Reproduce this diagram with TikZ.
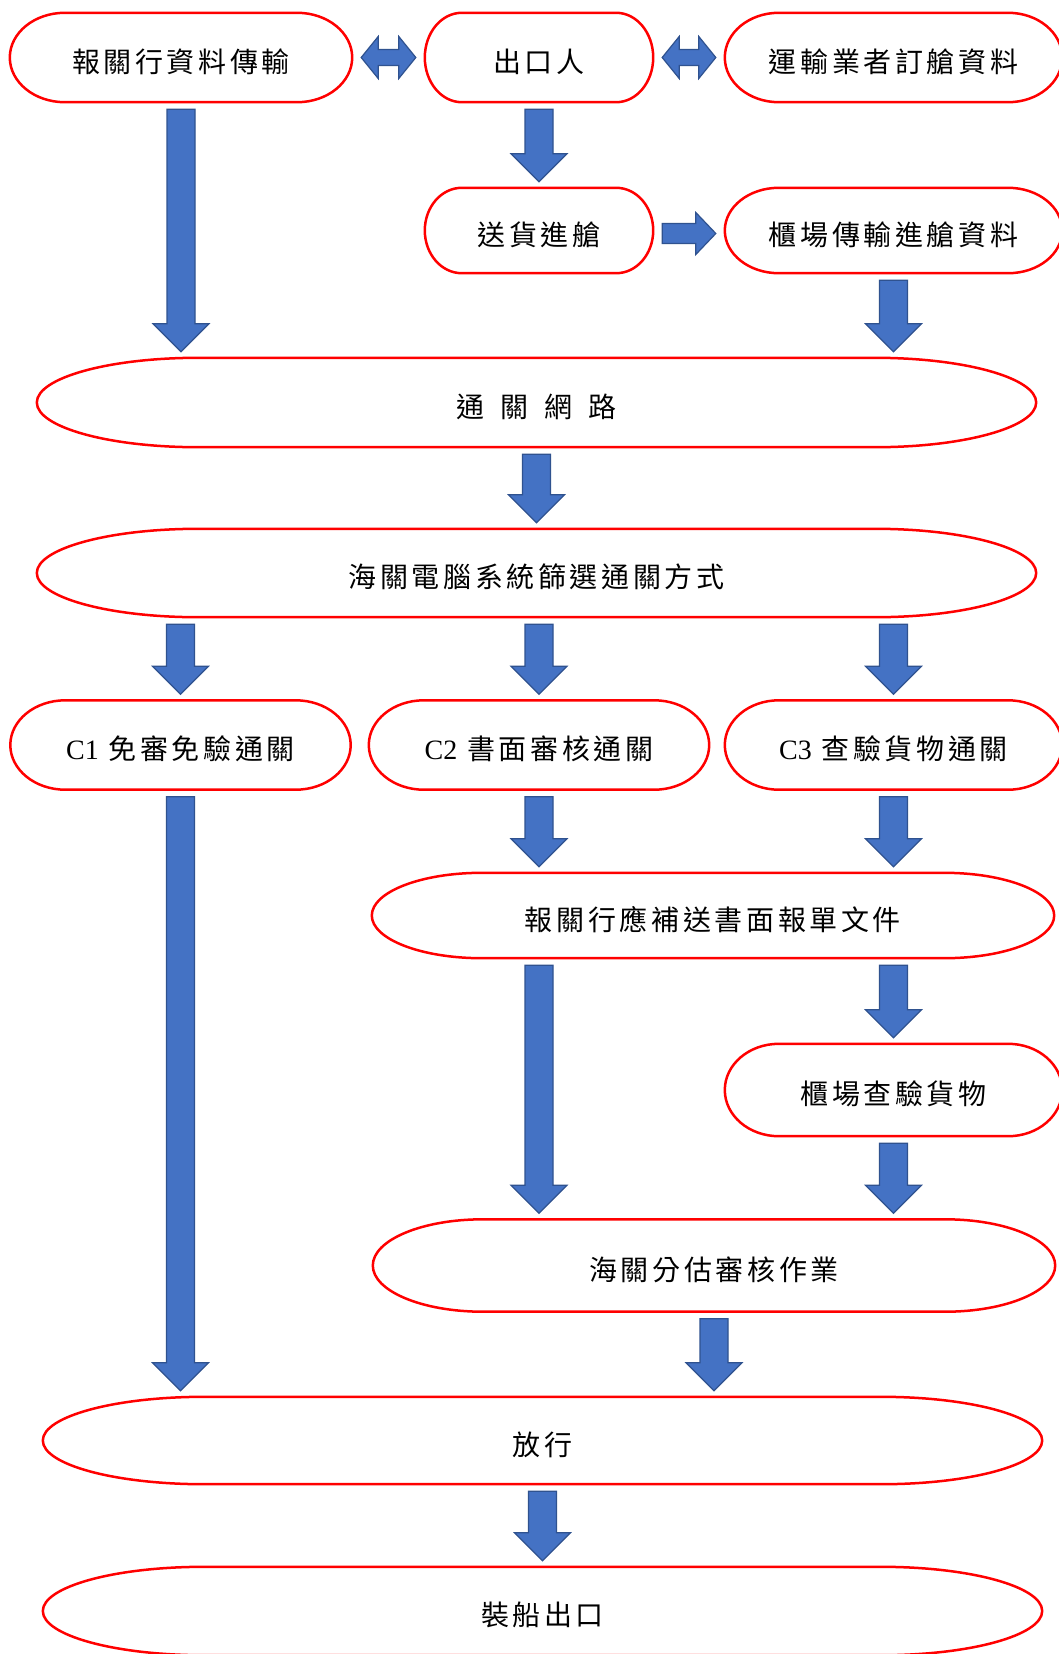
\documentclass[tikz,border=0pt]{standalone}
\usepackage{fontspec}
\setmainfont{Liberation Serif}
\newfontfamily\cjk[LetterSpace=13]{Noto Sans CJK TC}
\newfontfamily\lat{Liberation Serif}
\usetikzlibrary{calc}

\definecolor{termred}{HTML}{FF0000}
\definecolor{arrowblue}{HTML}{4472C4}
\definecolor{arrowedge}{HTML}{2F528F}

\tikzset{
	term/.style={inner sep=0pt, text=black, text height=29pt, text depth=0pt, font=\cjk\fontsize{28}{30}\selectfont},
	termline/.style={draw=termred, line width=2.5pt},
	blockarrow/.style={draw=arrowedge, fill=arrowblue, line width=1.2pt, line join=miter}
}

% outline of a terminator box: node, x radius of the ends
\newcommand{\termframe}[2]{%
	\draw[termline] let \p1=(#1.north east), \p2=(#1.south west), \n1={(\y1-\y2)/2} in
		(\x2+#2pt,\y1) -- (\x1-#2pt,\y1) arc[start angle=90, end angle=-90, x radius=#2pt, y radius=\n1]
		-- (\x2+#2pt,\y2) arc[start angle=270, end angle=90, x radius=#2pt, y radius=\n1] -- cycle;}
\newcommand{\blockdown}[2]{%
	\draw[blockarrow] let \p1=(#1), \p2=(#2) in
		(\x1-14pt,\y1-7pt) -- (\x1+14pt,\y1-7pt) -- (\x1+14pt,\y2+34pt) -- (\x1+28pt,\y2+34pt)
		-- (\x1,\y2+6pt) -- (\x1-28pt,\y2+34pt) -- (\x1-14pt,\y2+34pt) -- cycle;}
\newcommand{\blockright}[2]{%
	\draw[blockarrow] let \p1=(#1), \p2=(#2) in
		(\x1+9pt,\y1+7pt) -- (\x2-29pt,\y1+7pt) -- (\x2-29pt,\y1+18pt) -- (\x2-9pt,\y1-3pt)
		-- (\x2-29pt,\y1-24pt) -- (\x2-29pt,\y1-13pt) -- (\x1+9pt,\y1-13pt) -- cycle;}
\newcommand{\blockboth}[2]{%
	\draw[blockarrow] let \p1=(#1), \p2=(#2) in
		(\x1+9pt,\y1) -- (\x1+26pt,\y1+21pt) -- (\x1+26pt,\y1+8pt) -- (\x2-26pt,\y1+8pt)
		-- (\x2-26pt,\y1+21pt) -- (\x2-9pt,\y1) -- (\x2-26pt,\y1-21pt) -- (\x2-26pt,\y1-8pt)
		-- (\x1+26pt,\y1-8pt) -- (\x1+26pt,\y1-21pt) -- cycle;}

\begin{document}
\begin{tikzpicture}[x=1pt, y=-1pt]
		\useasboundingbox[fill=white] (0,0) rectangle (1059,1654);
		\clip (0,0) rectangle (1059,1654);
		% top rows
		\node[term, minimum width=342, minimum height=89] (broker) at (181,57.5) {報關行資料傳輸};
		\node[term, minimum width=228, minimum height=89] (exporter) at (539,57.5) {出口人};
		\node[term, minimum width=337, minimum height=89] (carrier) at (893.5,57.5) {運輸業者訂艙資料};
		\node[term, minimum width=228, minimum height=85] (delivery) at (539,230.5) {送貨進艙};
		\node[term, minimum width=337, minimum height=85] (cfs) at (893.5,230.5) {櫃場傳輸進艙資料};
		\node[term, minimum width=999, minimum height=89] (network) at (536.5,402.5) {通\hspace{16pt}關\hspace{16pt}網\hspace{16pt}路};
		\node[term, minimum width=999, minimum height=88] (screen) at (536.5,573) {海關電腦系統篩選通關方式};
		% C1 / C2 / C3
		\node[term, minimum width=340, minimum height=89] (cone) at (180.5,745) {{\lat C1} 免審免驗通關};
		\node[term, minimum width=340, minimum height=89] (ctwo) at (539,745) {{\lat C2} 書面審核通關};
		\node[term, minimum width=337, minimum height=89] (cthree) at (893.5,745) {{\lat C3} 查驗貨物通關};
		\node[term, minimum width=682, minimum height=85] (supply) at (713,915.5) {報關行應補送書面報單文件};
		\node[term, minimum width=337, minimum height=92] (inspect) at (893.5,1090) {櫃場查驗貨物};
		\node[term, minimum width=682, minimum height=92] (review) at (714,1265.5) {海關分估審核作業};
		\node[term, minimum width=999, minimum height=87] (release) at (542.5,1440.5) {放行};
		\node[term, minimum width=999, minimum height=88] (ship) at (542.5,1611) {裝船出口};
		\termframe{broker}{55}
		\termframe{exporter}{37}
		\termframe{carrier}{54}
		\termframe{delivery}{37}
		\termframe{cfs}{54}
		\termframe{network}{161}
		\termframe{screen}{161}
		\termframe{cone}{55}
		\termframe{ctwo}{55}
		\termframe{cthree}{54}
		\termframe{supply}{110}
		\termframe{inspect}{54}
		\termframe{review}{110}
		\termframe{release}{161}
		\termframe{ship}{161}
		% arrows
		\blockboth{broker.east}{exporter.west}
		\blockboth{exporter.east}{carrier.west}
		\blockright{delivery.east}{cfs.west}
		\blockdown{exporter.south}{delivery.north}
		\blockdown{broker.south}{network.north -| broker}
		\blockdown{cfs.south}{network.north -| cfs}
		\blockdown{network.south}{screen.north}
		\blockdown{screen.south -| cone}{cone.north}
		\blockdown{screen.south -| ctwo}{ctwo.north}
		\blockdown{screen.south -| cthree}{cthree.north}
		\blockdown{cone.south}{release.north -| cone}
		\blockdown{ctwo.south}{supply.north -| ctwo}
		\blockdown{cthree.south}{supply.north -| cthree}
		\blockdown{supply.south -| ctwo}{review.north -| ctwo}
		\blockdown{supply.south -| inspect}{inspect.north}
		\blockdown{inspect.south}{review.north -| inspect}
		\blockdown{review.south}{release.north -| review}
		\blockdown{release.south}{ship.north}
		% \blockdown{ship.south}{...}
\end{tikzpicture}
\end{document}
